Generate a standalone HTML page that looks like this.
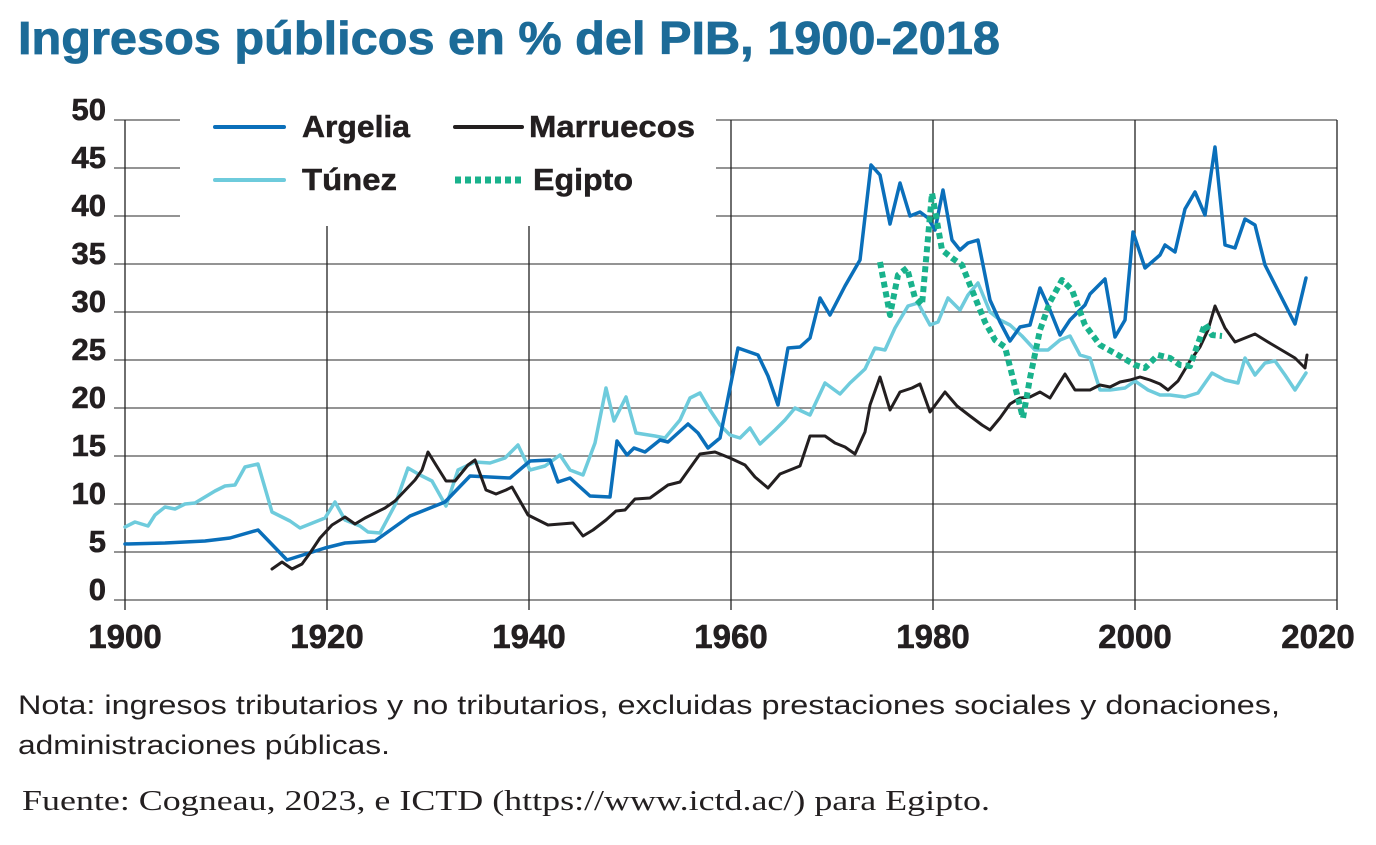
<!DOCTYPE html>
<html><head><meta charset="utf-8"><style>
html,body{margin:0;padding:0;background:#fff;width:1376px;height:845px;overflow:hidden}
svg{display:block}
</style></head><body>
<svg width="1376" height="845" viewBox="0 0 1376 845" xmlns="http://www.w3.org/2000/svg">
<rect width="1376" height="845" fill="#fff"/>
<text x="18" y="54" font-family="Liberation Sans, sans-serif" font-weight="bold" font-size="46" fill="#1c6b98" textLength="982" lengthAdjust="spacingAndGlyphs" stroke="#1c6b98" stroke-width="0.8">Ingresos públicos en % del PIB, 1900-2018</text>
<g stroke="#555" stroke-width="1.3">
<line x1="114" y1="120" x2="1337" y2="120"/><line x1="114" y1="168" x2="1337" y2="168"/><line x1="114" y1="216" x2="1337" y2="216"/><line x1="114" y1="264" x2="1337" y2="264"/><line x1="114" y1="312" x2="1337" y2="312"/><line x1="114" y1="360" x2="1337" y2="360"/><line x1="114" y1="408" x2="1337" y2="408"/><line x1="114" y1="456" x2="1337" y2="456"/><line x1="114" y1="504" x2="1337" y2="504"/><line x1="114" y1="552" x2="1337" y2="552"/><line x1="114" y1="600" x2="1337" y2="600"/>
</g>
<g stroke="#222" stroke-width="1.3">
<line x1="125" y1="120" x2="125" y2="610"/><line x1="327" y1="120" x2="327" y2="610"/><line x1="529" y1="120" x2="529" y2="610"/><line x1="731" y1="120" x2="731" y2="610"/><line x1="933" y1="120" x2="933" y2="610"/><line x1="1135" y1="120" x2="1135" y2="610"/><line x1="1337" y1="120" x2="1337" y2="610"/>
</g>
<rect x="180" y="100" width="536" height="126" fill="#fff"/>
<g font-family="Liberation Sans, sans-serif" font-weight="bold" font-size="31" fill="#231f20" text-anchor="end" stroke="#231f20" stroke-width="0.6">
<text x="106" y="120">50</text><text x="106" y="168">45</text><text x="106" y="216">40</text><text x="106" y="264">35</text><text x="106" y="312">30</text><text x="106" y="360">25</text><text x="106" y="408">20</text><text x="106" y="456">15</text><text x="106" y="504">10</text><text x="106" y="552">5</text><text x="106" y="600">0</text>
</g>
<g font-family="Liberation Sans, sans-serif" font-weight="bold" font-size="33" fill="#231f20" text-anchor="middle" stroke="#231f20" stroke-width="0.6">
<text x="125" y="648">1900</text><text x="327" y="648">1920</text><text x="529" y="648">1940</text><text x="731" y="648">1960</text><text x="933" y="648">1980</text><text x="1135" y="648">2000</text><text x="1318" y="648">2020</text>
</g>
<g fill="none" stroke-linejoin="round" stroke-linecap="round" stroke-width="3.5">
<polyline stroke="#6ecbdc" points="125,527 135,522 148,526 155,515 165,507 175,509 185,504 195,503 205,497 215,491 225,486 235,485 245,467 258,464 272,512 290,521 300,528 325,518 335,502 345,520 360,526 368,532 380,533 395,505 408,468 420,475 432,481 446,506 458,470 475,462 490,463 505,458 518,445 530,470 545,466 560,455 570,470 583,475 595,443 606,388 614,421 626,397 636,433 655,436 665,438 680,420 690,398 700,393 710,410 720,425 730,435 740,438 750,428 760,444 775,430 785,420 795,408 810,415 825,383 840,394 850,383 865,369 875,348 885,350 895,328 908,306 918,303 930,325 938,322 948,298 960,310 968,295 978,283 990,312 1000,320 1010,325 1022,336 1035,350 1048,350 1060,340 1070,336 1080,355 1090,358 1100,390 1110,390 1125,388 1135,381 1148,390 1160,395 1170,395 1185,397 1198,393 1212,373 1225,380 1238,383 1245,358 1255,375 1265,363 1275,361 1285,375 1295,390 1306,373"/>
<polyline stroke="#0a6fba" points="125,544 165,543 205,541 230,538 258,530 287,560 325,548 345,543 375,541 410,516 445,502 470,476 510,478 530,461 550,460 558,482 570,478 590,496 610,497 617,441 627,455 634,448 645,452 660,440 668,442 688,424 698,433 708,448 720,438 738,348 758,355 768,376 778,405 788,348 800,347 810,338 820,298 830,315 845,286 860,260 871,165 880,175 890,224 900,183 910,216 920,212 928,218 935,230 943,190 952,240 960,250 968,243 978,240 990,300 1000,322 1010,341 1020,327 1030,325 1040,288 1050,310 1060,335 1070,320 1085,305 1090,294 1105,279 1115,337 1125,320 1133,232 1145,268 1160,255 1165,245 1175,252 1185,209 1195,192 1205,215 1215,147 1225,245 1235,248 1245,219 1255,225 1265,265 1295,324 1306,278"/>
<polyline stroke="#231f20" stroke-width="3" points="272,569 282,562 292,569 302,564 310,553 320,538 332,525 345,517 355,524 365,518 385,508 395,501 415,480 422,470 428,452 436,465 446,481 455,481 468,465 475,460 486,490 496,494 506,490 512,487 528,515 548,525 573,523 583,536 593,530 606,520 616,511 625,510 635,499 650,498 668,485 680,482 690,468 700,454 715,452 730,458 745,465 755,477 768,488 780,474 790,470 800,466 810,436 825,436 835,443 845,447 855,454 865,432 870,405 880,377 890,410 900,392 912,388 920,384 930,412 945,392 957,406 970,416 982,425 990,430 1000,418 1010,404 1020,398 1030,397 1040,392 1050,398 1058,385 1065,374 1075,390 1090,390 1100,385 1110,387 1120,382 1130,380 1140,377 1150,380 1160,384 1168,390 1178,381 1190,361 1200,347 1208,330 1215,306 1225,328 1235,342 1245,338 1255,334 1268,342 1295,358 1305,368 1307,355"/>
<polyline stroke="#19b28c" stroke-width="6" stroke-linecap="butt" stroke-dasharray="6,4" points="880,262 890,315 898,275 907,268 915,298 922,305 932,193 942,250 952,258 962,265 972,290 985,322 995,340 1005,347 1023,418 1030,378 1040,330 1050,302 1062,280 1072,290 1085,325 1100,345 1118,355 1135,365 1145,368 1158,355 1170,358 1180,365 1190,366 1205,324 1212,335 1222,336"/>
</g>
<line x1="215" y1="127" x2="284" y2="127" stroke="#0a6fba" stroke-width="4" stroke-linecap="round"/>
<line x1="215" y1="180" x2="284" y2="180" stroke="#6ecbdc" stroke-width="4" stroke-linecap="round"/>
<line x1="455" y1="127" x2="522" y2="127" stroke="#231f20" stroke-width="4" stroke-linecap="round"/>
<line x1="455" y1="180" x2="522" y2="180" stroke="#19b28c" stroke-width="7" stroke-dasharray="6,4"/>
<g font-family="Liberation Sans, sans-serif" font-weight="bold" font-size="31" fill="#231f20" stroke="#231f20" stroke-width="0.5">
<text x="302" y="137" textLength="108" lengthAdjust="spacingAndGlyphs">Argelia</text>
<text x="302" y="190" textLength="95" lengthAdjust="spacingAndGlyphs">Túnez</text>
<text x="529" y="137" textLength="166" lengthAdjust="spacingAndGlyphs">Marruecos</text>
<text x="533" y="190" textLength="100" lengthAdjust="spacingAndGlyphs">Egipto</text>
</g>
<g font-family="Liberation Sans, sans-serif" font-size="27" fill="#231f20">
<text x="18" y="714" textLength="1262" lengthAdjust="spacingAndGlyphs">Nota: ingresos tributarios y no tributarios, excluidas prestaciones sociales y donaciones,</text>
<text x="18" y="754" textLength="372" lengthAdjust="spacingAndGlyphs">administraciones públicas.</text>
</g>
<text x="22" y="810" font-family="Liberation Serif, serif" font-size="29" fill="#231f20" textLength="968" lengthAdjust="spacingAndGlyphs">Fuente: Cogneau, 2023, e ICTD (https://www.ictd.ac/) para Egipto.</text>
</svg>
</body></html>
